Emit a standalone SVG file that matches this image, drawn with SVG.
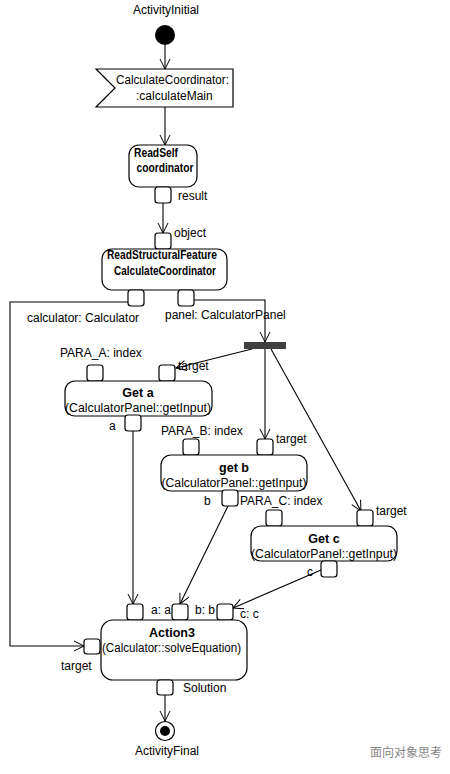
<svg xmlns="http://www.w3.org/2000/svg" width="450" height="774" viewBox="0 0 450 774">
<defs>
<marker id="arr" viewBox="0 0 12 12" refX="11" refY="6" markerWidth="12" markerHeight="12" markerUnits="userSpaceOnUse" orient="auto">
<path d="M1,1 L11,6 L1,11" fill="none" stroke="#000" stroke-width="1"/>
</marker>
<style>
text{font-family:"Liberation Sans",Arial,sans-serif;font-size:12px;fill:#000}
.b{font-weight:bold;font-size:12.5px}
.c{text-anchor:middle}
.node{fill:#fff;stroke:#000;stroke-width:1.2}
.pin{fill:#fff;stroke:#000;stroke-width:1.2}
.edge{fill:none;stroke:#000;stroke-width:1.1;marker-end:url(#arr)}
.wm{fill:#888;font-family:"Noto Sans CJK SC","Liberation Sans",sans-serif;font-size:12px}
</style>
</defs>
<rect width="450" height="774" fill="#fff"/>

<g id="connectors">
<path class="edge" d="M165,45 L165,69"/>
<path class="edge" d="M165,107 L165,145"/>
<path class="edge" d="M163,203 L163,233"/>
<path class="edge" d="M128,302 L10,302 L10,646 L84,646"/>
<path class="edge" d="M194,300 L265,300 L265,342"/>
<path class="edge" d="M252,349 L176,368"/>
<path class="edge" d="M265,349 L265,439"/>
<path class="edge" d="M271,349 L361,511"/>
<path class="edge" d="M133,431 L133,604"/>
<path class="edge" d="M228,506 L180,604"/>
<path class="edge" d="M321,570 L233,608"/>
<path class="edge" d="M165,695 L165,721"/>
</g>

<g id="initial">
<text class="c" x="166" y="14">ActivityInitial</text>
<circle cx="165" cy="35" r="10" fill="#000"/>
</g>

<g id="accept">
<polygon class="node" points="96,69 233,69 233,107 96,107 115,88"/>
<text x="116" y="84" textLength="113" lengthAdjust="spacingAndGlyphs">CalculateCoordinator:</text>
<text x="136" y="100">:calculateMain</text>
</g>

<g id="readSelf">
<rect class="node" x="129" y="145" width="68" height="42" rx="10"/>
<text class="b" x="134" y="157" textLength="44" lengthAdjust="spacingAndGlyphs">ReadSelf</text>
<text class="b c" x="165" y="172" textLength="57" lengthAdjust="spacingAndGlyphs">coordinator</text>
<rect class="pin" x="155" y="187" width="16" height="16" rx="3"/>
<text x="178" y="200">result</text>
</g>

<g id="readStructural">
<rect class="pin" x="155" y="233" width="16" height="16" rx="3"/>
<text x="174" y="237">object</text>
<rect class="node" x="102" y="249" width="125" height="41" rx="10"/>
<text class="b c" x="162" y="259" textLength="110" lengthAdjust="spacingAndGlyphs">ReadStructuralFeature</text>
<text class="b c" x="165" y="275" textLength="102" lengthAdjust="spacingAndGlyphs">CalculateCoordinator</text>
<rect class="pin" x="128" y="290" width="16" height="16" rx="3"/>
<rect class="pin" x="178" y="290" width="16" height="16" rx="3"/>
<text x="27" y="322">calculator: Calculator</text>
<text x="165" y="319">panel: CalculatorPanel</text>
</g>

<g id="fork">
<rect x="244" y="342" width="42" height="7" fill="#404040"/>
</g>

<g id="getA">
<text x="60" y="357">PARA_A: index</text>
<rect class="pin" x="87" y="365" width="16" height="16" rx="3"/>
<rect class="pin" x="159" y="365" width="16" height="16" rx="3"/>
<text x="178" y="370">target</text>
<rect class="node" x="65" y="381" width="147" height="35" rx="10"/>
<text class="b c" x="138" y="397">Get a</text>
<text class="c" x="138" y="412" textLength="146" lengthAdjust="spacingAndGlyphs">(CalculatorPanel::getInput)</text>
<rect class="pin" x="125" y="415" width="16" height="16" rx="3"/>
<text x="109" y="430">a</text>
</g>

<g id="getB">
<text x="161" y="435">PARA_B: index</text>
<rect class="pin" x="183" y="439" width="16" height="16" rx="3"/>
<rect class="pin" x="257" y="439" width="16" height="16" rx="3"/>
<text x="276" y="443">target</text>
<rect class="node" x="161" y="455" width="146" height="36" rx="10"/>
<text class="b c" x="234" y="472">get b</text>
<text class="c" x="234" y="487" textLength="145" lengthAdjust="spacingAndGlyphs">(CalculatorPanel::getInput)</text>
<rect class="pin" x="222" y="490" width="16" height="16" rx="3"/>
<text x="204" y="505">b</text>
<text x="240" y="505">PARA_C: index</text>
</g>

<g id="getC">
<rect class="pin" x="266" y="510" width="16" height="16" rx="3"/>
<rect class="pin" x="357" y="510" width="16" height="16" rx="3"/>
<text x="376" y="515">target</text>
<rect class="node" x="251" y="526" width="146" height="35" rx="10"/>
<text class="b c" x="324" y="543">Get c</text>
<text class="c" x="324" y="558" textLength="146" lengthAdjust="spacingAndGlyphs">(CalculatorPanel::getInput)</text>
<rect class="pin" x="321" y="561" width="16" height="16" rx="3"/>
<text x="307" y="576">c</text>
</g>

<g id="action3">
<rect class="pin" x="127" y="604" width="16" height="16" rx="3"/>
<text x="151" y="614">a: a</text>
<rect class="pin" x="172" y="604" width="16" height="16" rx="3"/>
<text x="195" y="614">b: b</text>
<rect class="pin" x="217" y="604" width="16" height="16" rx="3"/>
<text x="240" y="618">c: c</text>
<rect class="node" x="101" y="620" width="146" height="60" rx="12"/>
<text class="b c" x="172" y="637">Action3</text>
<text x="102" y="652" textLength="139" lengthAdjust="spacingAndGlyphs">(Calculator::solveEquation)</text>
<rect class="pin" x="84" y="639" width="16" height="15" rx="3"/>
<text x="61" y="670">target</text>
<rect class="pin" x="157" y="680" width="16" height="15" rx="3"/>
<text x="183" y="692">Solution</text>
</g>

<g id="final">
<circle cx="165" cy="731" r="9.5" fill="#fff" stroke="#000" stroke-width="1.2"/>
<circle cx="165" cy="731" r="5" fill="#000"/>
<text class="c" x="167" y="755">ActivityFinal</text>
</g>

<g id="watermark">
<text class="wm" x="370" y="757">面向对象思考</text>
</g>
</svg>
